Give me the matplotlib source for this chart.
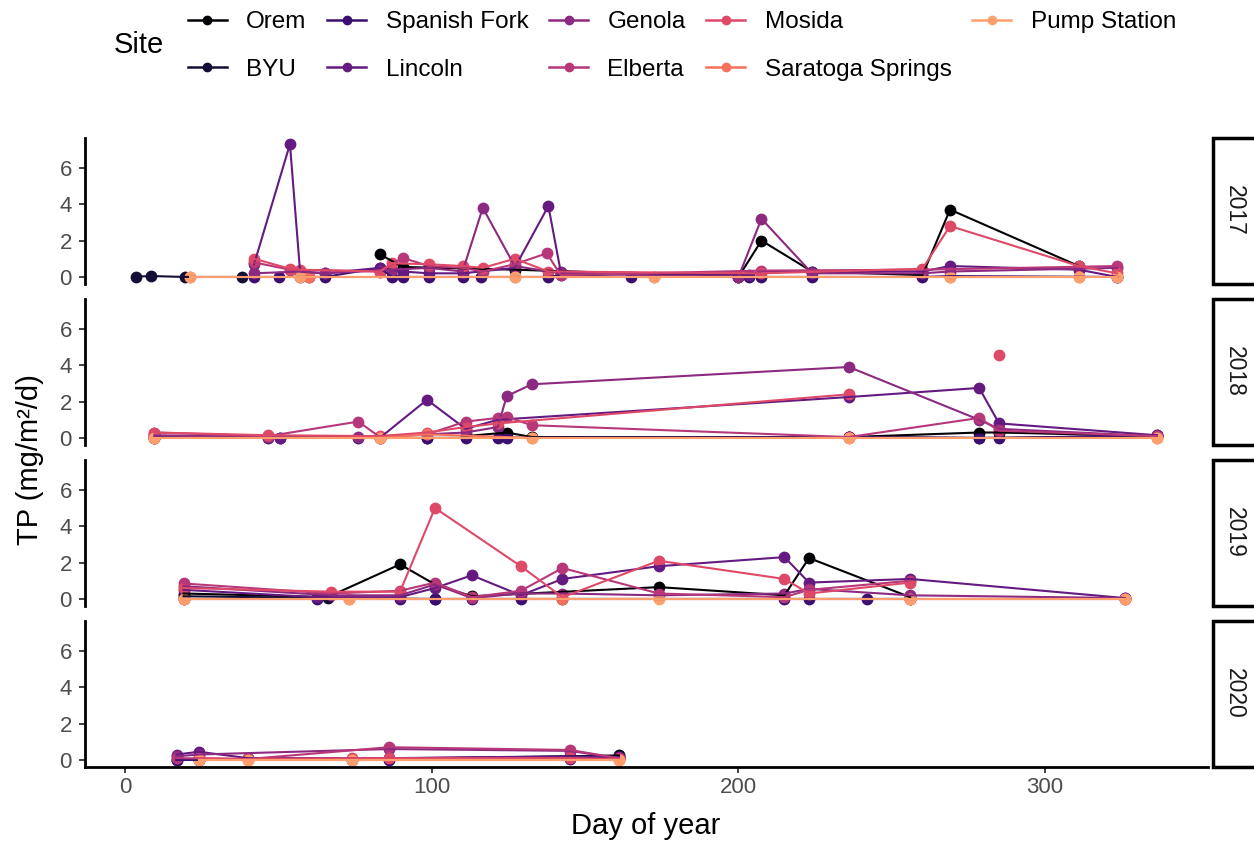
import numpy as np
import matplotlib
matplotlib.use("Agg")
import matplotlib.pyplot as plt
from matplotlib.patches import Rectangle
from matplotlib.lines import Line2D

plt.rcParams['font.family'] = ['Liberation Sans', 'DejaVu Sans']

sites = ["Orem", "BYU", "Spanish Fork", "Lincoln", "Genola", "Elberta",
         "Mosida", "Saratoga Springs", "Pump Station"]
years = [2017, 2018, 2019, 2020]

# ---------------- data (day of year, TP mg/m2/d) ----------------
days_2017 = {
    "Orem": [83, 90.5, 127, 200, 207.5, 224, 260, 269, 311],
    "BYU": [3.5, 8.5, 19.5, 38],
    "Spanish Fork": [42, 50, 57, 60, 65, 83, 87, 90.5, 99, 110, 116, 138, 142, 165, 200, 203.5, 207.5, 224, 260, 269, 323.5],
    "Lincoln": [42, 53.7, 57, 65, 83, 90.5, 99, 110, 127, 138, 142, 203.5, 207.5, 224, 260, 269, 311, 323.5],
    "Genola": [42, 57, 65, 87, 99, 110, 116.6, 127, 142, 200, 207.5, 224, 260, 269, 323.5],
    "Elberta": [42, 53.7, 83, 90.5, 99, 110, 116.6, 127, 137.5, 142, 207.5, 260, 323.5],
    "Mosida": [42, 53.7, 57, 83, 87, 99, 110, 116.6, 127, 138, 207.5, 260, 269, 311, 323.5],
    "Saratoga Springs": [21, 60, 127, 172.5, 269, 311],
    "Pump Station": [21, 57, 127, 172.5, 269, 311, 323.5],
}
tp_2017 = {
    "Orem": [1.25, 0.55, 0.4, 0.0, 2.0, 0.3, 0.1, 3.7, 0.6],
    "BYU": [0.02, 0.05, 0.0, 0.0],
    "Spanish Fork": [0, 0, 0, 0, 0, 0.5, 0, 0, 0, 0, 0, 0, 0.1, 0, 0, 0, 0, 0, 0, 0.05, 0],
    "Lincoln": [0.7, 7.3, 0.3, 0.2, 0.5, 0.3, 0.2, 0.2, 0.5, 3.9, 0.3, 0.1, 0.3, 0.3, 0.3, 0.6, 0.4, 0.0],
    "Genola": [0.2, 0.3, 0.2, 0.4, 0.5, 0.3, 3.8, 0.6, 0.2, 0.0, 3.2, 0.2, 0.2, 0.3, 0.5],
    "Elberta": [0.8, 0.4, 0.3, 1.05, 0.6, 0.5, 0.3, 0.7, 1.3, 0.1, 0.35, 0.4, 0.6],
    "Mosida": [1.0, 0.45, 0.4, 0.3, 0.75, 0.7, 0.6, 0.5, 1.0, 0.3, 0.2, 0.45, 2.8, 0.6, 0.2],
    "Saratoga Springs": [0, 0, 0, 0, 0, 0],
    "Pump Station": [0, 0, 0, 0, 0, 0, 0],
}

days_2018 = {
    "Orem": [111, 124.4, 132.6, 236, 278.5, 285, 336.5],
    "BYU": [9.5, 98.4, 236, 278.5, 336.5],
    "Spanish Fork": [9.5, 46.6, 50.5, 76, 83, 98.4, 111, 121.5, 124.4, 236, 278.5, 285, 336.5],
    "Lincoln": [9.5, 46.6, 50.5, 83, 98.4, 111, 121.5, 236, 278.5, 285, 336.5],
    "Genola": [9.5, 46.6, 76, 98.4, 111, 121.5, 124.4, 132.6, 236, 278.5, 285, 336.5],
    "Elberta": [9.5, 46.6, 76, 83, 98.4, 111, 121.5, 124.4, 132.6, 236, 278.5, 285, 336.5],
    "Mosida": [9.5, 46.6, 83, 98.4, 111, 121.5, 236, 270, 285],
    "Saratoga Springs": [9.5, 83, 98.4, 132.6, 236, 336.5],
    "Pump Station": [9.5, 83, 132.6, 236, 336.5],
}
tp_2018 = {
    "Orem": [0.1, 0.3, 0.05, 0.05, 0.3, 0.3, 0.1],
    "BYU": [0.0, 0.0, 0.05, 0.0, 0.1],
    "Spanish Fork": [0, 0, 0, 0, 0, 0, 0, 0, 0, 0.05, 0, 0, 0.15],
    "Lincoln": [0.1, 0.05, 0.0, 0.0, 2.1, 0.5, 1.0, 2.25, 2.75, 0.8, 0.15],
    "Genola": [0.15, 0.05, 0.05, 0.2, 0.3, 0.6, 2.3, 2.95, 3.9, 1.0, 0.5, 0.1],
    "Elberta": [0.3, 0.1, 0.9, 0.05, 0.2, 0.9, 1.1, 1.15, 0.7, 0.05, 1.1, 0.4, 0.1],
    "Mosida": [0.3, 0.15, 0.1, 0.3, 0.6, 0.8, 2.4, np.nan, 4.55],
    "Saratoga Springs": [0, 0, 0.2, 0, 0, 0],
    "Pump Station": [0, 0, 0, 0, 0],
}

days_2019 = {
    "Orem": [19, 66, 89.6, 101, 113, 174, 215, 223, 256],
    "BYU": [19, 66, 101, 256],
    "Spanish Fork": [19, 62.5, 89.6, 101, 113, 129, 142.6, 215, 223, 242, 326],
    "Lincoln": [19, 62.5, 89.6, 101, 113, 129, 142.6, 174, 215, 223, 256, 326],
    "Genola": [19, 67, 89.6, 101, 113, 129, 142.6, 174, 215, 223, 256, 326],
    "Elberta": [19, 67, 89.6, 101, 113, 129, 142.6, 174, 215, 223, 256],
    "Mosida": [19, 67, 89.6, 101, 129, 142.6, 174, 215, 223, 256],
    "Saratoga Springs": [19, 73, 142.6, 256, 326],
    "Pump Station": [19, 73, 174, 256, 326],
}
tp_2019 = {
    "Orem": [0.3, 0.1, 1.9, 0.8, 0.15, 0.65, 0.2, 2.25, 0.1],
    "BYU": [0.15, 0.05, 0.0, 0.0],
    "Spanish Fork": [0, 0, 0, 0, 0, 0, 0, 0, 0, 0, 0],
    "Lincoln": [0.5, 0.1, 0.1, 0.6, 1.3, 0.2, 1.1, 1.8, 2.3, 0.9, 1.1, 0.05],
    "Genola": [0.7, 0.2, 0.2, 0.8, 0.05, 0.3, 0.3, 0.2, 0.3, 0.55, 0.2, 0.05],
    "Elberta": [0.85, 0.3, 0.45, 0.9, 0.1, 0.45, 1.7, 0.3, 0.1, 0.5, 1.0],
    "Mosida": [0.6, 0.4, 0.4, 5.0, 1.8, 0.1, 2.1, 1.1, 0.3, 0.9],
    "Saratoga Springs": [0, 0, 0, 0, 0],
    "Pump Station": [0, 0, 0, 0, 0],
}

days_2020 = {
    "Orem": [86, 161],
    "BYU": [16.7, 24, 161],
    "Spanish Fork": [16.7, 24, 74, 86, 145, 161],
    "Lincoln": [16.7, 24, 40, 86, 145, 161],
    "Genola": [16.7, 24, 86, 145, 161],
    "Elberta": [16.7, 40, 86, 145, 161],
    "Mosida": [24, 40, 74, 86, 145, 161],
    "Saratoga Springs": [24, 40, 161],
    "Pump Station": [24, 40, 74, 161],
}
tp_2020 = {
    "Orem": [0.05, 0.25],
    "BYU": [0.0, 0.0, 0.2],
    "Spanish Fork": [0.0, 0.0, 0.0, 0.0, 0.05, 0.1],
    "Lincoln": [0.3, 0.45, 0.1, 0.1, 0.2, 0.15],
    "Genola": [0.2, 0.3, 0.6, 0.5, 0.1],
    "Elberta": [0.1, 0.05, 0.7, 0.55, 0.1],
    "Mosida": [0.1, 0.05, 0.1, 0.1, 0.1, 0.05],
    "Saratoga Springs": [0, 0, 0],
    "Pump Station": [0, 0, 0, 0],
}

y_ticks = [0, 2, 4, 6]
x_ticks = [0, 100, 200, 300]

# ---------------- styling ----------------
cmap = plt.get_cmap("magma")
colors = {s: cmap(v) for s, v in zip(sites, np.linspace(0, 0.8, len(sites)))}

all_days = {2017: days_2017, 2018: days_2018, 2019: days_2019, 2020: days_2020}
all_tp = {2017: tp_2017, 2018: tp_2018, 2019: tp_2019, 2020: tp_2020}

xs = np.concatenate([np.asarray(v, float) for d in all_days.values() for v in d.values()])
ys = np.concatenate([np.asarray(v, float) for d in all_tp.values() for v in d.values()])
xmin, xmax = np.nanmin(xs), np.nanmax(xs)
ymin, ymax = np.nanmin(ys), np.nanmax(ys)
xr, yr = xmax - xmin, ymax - ymin
xlim = (xmin - 0.05 * xr, xmax + 0.05 * xr)
ylim = (ymin - 0.05 * yr, ymax + 0.05 * yr)

W, H = 1254, 842
fig = plt.figure(figsize=(W / 100, H / 100), dpi=100)

left_px, right_px = 85, 1208
panel_px = [(137.5, 283.6), (298.5, 444.6), (459.5, 605.6), (620.5, 766.6)]
tick_col = "#4D4D4D"

for i, yr_ in enumerate(years):
    top, bot = panel_px[i]
    ax = fig.add_axes([left_px / W, 1 - bot / H, (right_px - left_px) / W, (bot - top) / H])
    dd, tt = all_days[yr_], all_tp[yr_]
    for s in sites:
        ax.plot(dd[s], tt[s], 'o', ms=8.5, color=colors[s], mec='none', zorder=2)
    for s in sites:
        ax.plot(dd[s], tt[s], '-', lw=1.5, color=colors[s], zorder=3)
    ax.set_xlim(*xlim)
    ax.set_ylim(*ylim)
    ax.set_yticks(y_ticks)
    ax.set_xticks(x_ticks)
    for sp in ["top", "right"]:
        ax.spines[sp].set_visible(False)
    ax.spines["left"].set_linewidth(2.0)
    ax.spines["left"].set_color("black")
    ax.tick_params(axis='y', direction='out', length=4.5, width=1.3, color="#333333",
                   labelsize=16, labelcolor=tick_col, pad=5)
    if i < 3:
        ax.spines["bottom"].set_visible(False)
        ax.tick_params(axis='x', bottom=False, labelbottom=False)
    else:
        ax.spines["bottom"].set_linewidth(2.0)
        ax.spines["bottom"].set_color("black")
        ax.tick_params(axis='x', direction='out', length=4.5, width=1.3, color="#333333",
                       labelsize=16, labelcolor=tick_col, pad=3)
    ax.set_facecolor("none")
    # strip
    rect = Rectangle((1213 / W, 1 - bot / H), 60 / W, (bot - top) / H,
                     transform=fig.transFigure, facecolor="white", edgecolor="black",
                     linewidth=2.5, clip_on=False)
    fig.add_artist(rect)
    fig.text(1234 / W, 1 - ((top + bot) / 2) / H, str(yr_), rotation=-90,
             ha='center', va='center', fontsize=16.5, color="#1A1A1A")

fig.text(646 / W, 1 - 826 / H, "Day of year", ha='center', va='center', fontsize=21)
fig.text(30 / W, 1 - 460 / H, "TP (mg/m\u00b2/d)", ha='center', va='center',
         rotation=90, fontsize=21)

# legend
handles = [Line2D([0], [0], color=colors[s], lw=1.8, marker='o', ms=6) for s in sites]
leg = fig.legend(handles, sites, loc='upper left', bbox_to_anchor=(188 / W, 1 - 11 / H),
                 ncol=5, frameon=False, fontsize=17.5, handlelength=1.6,
                 handletextpad=0.8, columnspacing=0.85, labelspacing=1.05,
                 borderaxespad=0, borderpad=0)
fig.text(114 / W, 1 - 45 / H, "Site", ha='left', va='center', fontsize=21)

fig.savefig("out.png", dpi=100)
